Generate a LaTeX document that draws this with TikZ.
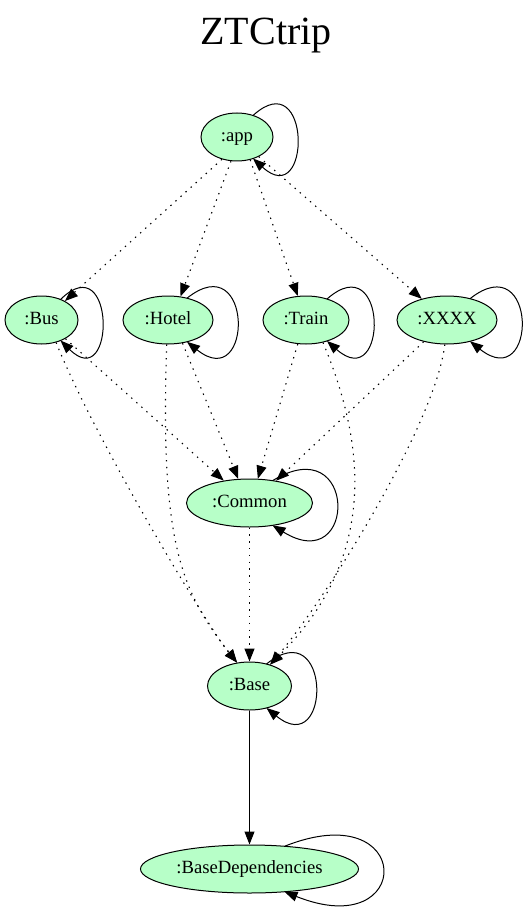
\documentclass[tikz,border=0pt]{standalone}
\usepackage{fontspec}
\setmainfont{Liberation Serif}
\usetikzlibrary{arrows.meta,calc,shapes.geometric}
\definecolor{nodegreen}{RGB}{183,255,200}
\tikzset{
  modnode/.style={ellipse, draw=black, line width=1pt, fill=nodegreen,
    minimum height=48pt, inner sep=0pt,
    font=\fontsize{18.67}{22}\selectfont, text height=12.6pt, text depth=4pt},
  depedge/.style={line width=1.1pt, dash pattern=on 1.4pt off 5.4pt,
    -{Triangle[length=13pt,width=10pt]}},
  solidedge/.style={line width=1pt, -{Triangle[length=13pt,width=10pt]}},
  titletext/.style={font=\fontsize{40}{48}\selectfont, anchor=base, inner sep=0pt}
}
\newcommand{\selfloop}[4]{%
  \draw[solidedge] ($(#1.center)+(#2,-#3)$)
    .. controls ($(#1.center)+({#4+(#4-#2)/3+32},-75)$)
    and ($(#1.center)+({#4+(#4-#2)/3+32},75)$)
    .. ($(#1.center)+(#2,#3)$);}
\begin{document}
\begin{tikzpicture}[x=1pt,y=-1pt]
\useasboundingbox (0,0) rectangle (532,909);
\node[titletext] (title) at (266,45) {ZTCtrip};

\node[modnode, minimum width=72pt] (app) at (237,137) {:app};
\node[modnode, minimum width=73pt] (bus) at (41.5,320) {:Bus};
\node[modnode, minimum width=90pt] (hotel) at (168,320) {:Hotel};
\node[modnode, minimum width=86pt] (train) at (306,320) {:Train};
\node[modnode, minimum width=100pt] (xxxx) at (447,320) {:XXXX};
\node[modnode, minimum width=126pt] (common) at (249.5,503) {:Common};
\node[modnode, minimum width=84pt] (base) at (249.5,686) {:Base};
\node[modnode, minimum width=218pt] (deps) at (249.5,869) {:BaseDependencies};

\draw[depedge] (app.-124) -- (bus.39);
\draw[depedge] (app.-104) -- (hotel.62);
\draw[depedge] (app.-60) -- (train.109);
\draw[depedge] (app.-42) -- (xxxx.140);

\draw[depedge] (bus.-38) -- (common.139);
\draw[depedge] (hotel.-58) -- (common.115);
\draw[depedge] (train.-109) -- (common.71);
\draw[depedge] (xxxx.-137) -- (common.40);

\draw[depedge] (bus.-57) .. controls (95,440) and (210,630) .. (base.118);
\draw[depedge] (hotel.-93) .. controls (160,540) and (180,590) .. (base.118);
\draw[depedge] (train.-53) .. controls (368,450) and (375,560) .. (base.46);
\draw[depedge] (xxxx.-95) .. controls (435,425) and (325,600) .. (base.46);
\draw[depedge] (common.south) -- (base.north);
\draw[solidedge] (base.south) -- (deps.north);

\selfloop{app}{16}{21.5}{36}
\selfloop{bus}{19}{20.5}{36.5}
\selfloop{hotel}{19}{21.8}{45}
\selfloop{train}{21}{21}{43}
\selfloop{xxxx}{23}{21.3}{50}
\selfloop{common}{23}{22.3}{63}
\selfloop{base}{17}{22}{42}
\selfloop{deps}{35}{22.7}{109}
\end{tikzpicture}
\end{document}
